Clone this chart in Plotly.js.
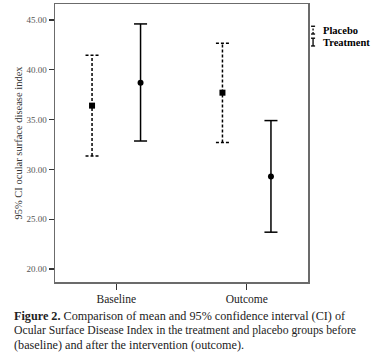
<!DOCTYPE html>
<html>
<head>
<meta charset="utf-8">
<script src="https://cdn.plot.ly/plotly-3.0.1.min.js"></script>
<style>
html,body{margin:0;padding:0;background:#fff;}
#chart{width:377px;height:358px;}
</style>
</head>
<body>
<div id="chart"></div>
<script>
// ---- data ----
var categories = ["Baseline", "Outcome"];
var groups = ["Placebo", "Treatment"];
var placeboMean = [36.4, 37.7];
var placeboUpper = [41.45, 42.65];
var placeboLower = [31.35, 32.7];
var treatmentMean = [38.7, 29.3];
var treatmentUpper = [44.6, 34.9];
var treatmentLower = [32.85, 23.7];
var yTickVals = [20, 25, 30, 35, 40, 45];
var yTickText = ["20.00", "25.00", "30.00", "35.00", "40.00", "45.00"];
var captionLines = [
  "<b>Figure 2.</b> Comparison of mean and 95% confidence interval (CI) of",
  "Ocular Surface Disease Index in the treatment and placebo groups before",
  "(baseline) and after the intervention (outcome)."
];

// ---- build traces ----
var OFFSET = 0.186, CAP = 0.05;
function ciTrace(name, means, up, lo, shift, dash) {
  var xs = [], ys = [];
  for (var i = 0; i < means.length; i++) {
    var x = i + shift;
    xs.push(x, x, null, x - CAP, x + CAP, null, x - CAP, x + CAP, null);
    ys.push(lo[i], up[i], null, up[i], up[i], null, lo[i], lo[i], null);
  }
  return {
    type: "scatter", mode: "lines", x: xs, y: ys, name: name,
    line: {color: "#000", width: 1.5, dash: dash},
    hoverinfo: "skip", showlegend: false
  };
}
function meanTrace(name, means, shift, symbol) {
  return {
    type: "scatter", mode: "markers", name: name,
    x: means.map(function (m, i) { return i + shift; }), y: means,
    marker: {color: "#000", size: 6, symbol: symbol},
    showlegend: false
  };
}
var data = [
  ciTrace(groups[0], placeboMean, placeboUpper, placeboLower, -OFFSET, "3px,2px"),
  ciTrace(groups[1], treatmentMean, treatmentUpper, treatmentLower, OFFSET, "solid"),
  meanTrace(groups[0], placeboMean, -OFFSET, "square"),
  meanTrace(groups[1], treatmentMean, OFFSET, "circle")
];

var serif = "Liberation Serif, Times New Roman, serif";

// legend glyphs (I-beam), placebo dashed
function glyph(yc, dash) {
  var h = 0.014, gx = 1.02, cw = 0.008;
  return [
    {type: "line", xref: "paper", yref: "paper", x0: gx, x1: gx, y0: yc - h, y1: yc + h, line: {color: "#000", width: 1.3, dash: dash}},
    {type: "line", xref: "paper", yref: "paper", x0: gx - cw, x1: gx + cw, y0: yc + h, y1: yc + h, line: {color: "#000", width: 1.3}},
    {type: "line", xref: "paper", yref: "paper", x0: gx - cw, x1: gx + cw, y0: yc - h, y1: yc - h, line: {color: "#000", width: 1.3}}
  ];
}
var legendY = [0.906, 0.863];

var annotations = [];
groups.forEach(function (g, i) {
  annotations.push({xref: "paper", yref: "paper", x: 1.052, y: legendY[i], xanchor: "left", yanchor: "middle", showarrow: false,
    text: "<b>" + g + "</b>", font: {family: serif, size: 10.5, color: "#000"}});
});
var capY = [-0.122, -0.1745, -0.2266];
var capSize = [12.2, 11.7, 12.2];
captionLines.forEach(function (t, i) {
  annotations.push({xref: "paper", yref: "paper", x: -0.17, y: capY[i], xanchor: "left", yanchor: "middle", showarrow: false, align: "left",
    text: t, font: {family: serif, size: capSize[i], color: "#222"}});
});

var layout = {
  width: 377, height: 358,
  margin: {l: 55, r: 69, t: 4, b: 76},
  paper_bgcolor: "#fff", plot_bgcolor: "#fff",
  showlegend: false,
  font: {family: serif, color: "#000"},
  xaxis: {
    range: [-0.47, 1.47], tickvals: [0, 1], ticktext: categories,
    showgrid: false, zeroline: false,
    showline: true, mirror: true, linecolor: "#6b6b6b", linewidth: 1.5,
    ticks: "outside", ticklen: 6, tickcolor: "#333", tickwidth: 1.2,
    tickfont: {family: serif, size: 11.5, color: "#222"}
  },
  yaxis: {
    range: [18.7, 46.6], tickvals: yTickVals, ticktext: yTickText,
    showgrid: false, zeroline: false,
    showline: true, mirror: true, linecolor: "#6b6b6b", linewidth: 1.5,
    ticks: "outside", ticklen: 5, tickcolor: "#333", tickwidth: 1.2,
    tickfont: {family: serif, size: 9, color: "#555"},
    title: {text: "95% CI ocular surface disease index", font: {family: serif, size: 10.5, color: "#333"}, standoff: 2}
  },
  shapes: glyph(legendY[0], "2px,1.5px").concat(glyph(legendY[1], "solid")),
  annotations: annotations
};

Plotly.newPlot("chart", data, layout, {displayModeBar: false, staticPlot: true});
</script>
</body>
</html>
